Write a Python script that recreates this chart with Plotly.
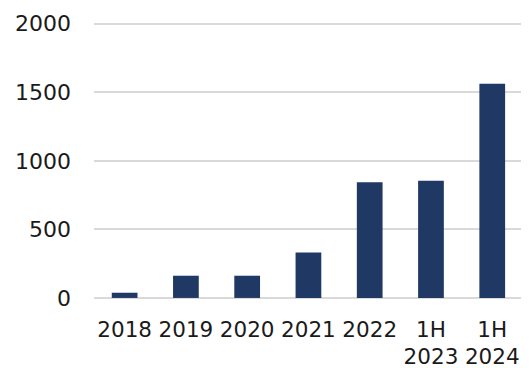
import plotly.graph_objects as go

categories = ["2018", "2019", "2020", "2021", "2022", "1H<br>2023", "1H<br>2024"]
values = [38, 162, 162, 332, 843, 855, 1563]
y_ticks = [0, 500, 1000, 1500, 2000]

fig = go.Figure(
    go.Bar(
        x=list(range(len(categories))),
        y=values,
        marker=dict(color="#203864", line=dict(width=0)),
        width=0.42,
    )
)

# the page body adds an 8px offset, so the figure is sized to fill the rest
fig.update_layout(
    width=521,
    height=360,
    margin=dict(l=86, r=0, t=13, b=68, pad=0),
    paper_bgcolor="white",
    plot_bgcolor="white",
    showlegend=False,
    font=dict(family="DejaVu Sans", size=22, color="#1a1a1a"),
)

fig.update_xaxes(
    tickmode="array",
    tickvals=list(range(len(categories))),
    ticktext=categories,
    range=[-0.5, 6.6],
    showgrid=False,
    zeroline=False,
    showline=False,
    ticks="",
    ticklabelstandoff=14,
    tickfont=dict(size=21.5),
    automargin=False,
)

fig.update_yaxes(
    tickmode="array",
    tickvals=y_ticks,
    ticktext=[str(v) for v in y_ticks],
    range=[-15, 2020],
    showgrid=True,
    gridcolor="#d9d9d9",
    gridwidth=2,
    zeroline=False,
    showline=False,
    ticks="",
    ticklabelstandoff=22,
    automargin=False,
)

fig.write_html("out.html")
